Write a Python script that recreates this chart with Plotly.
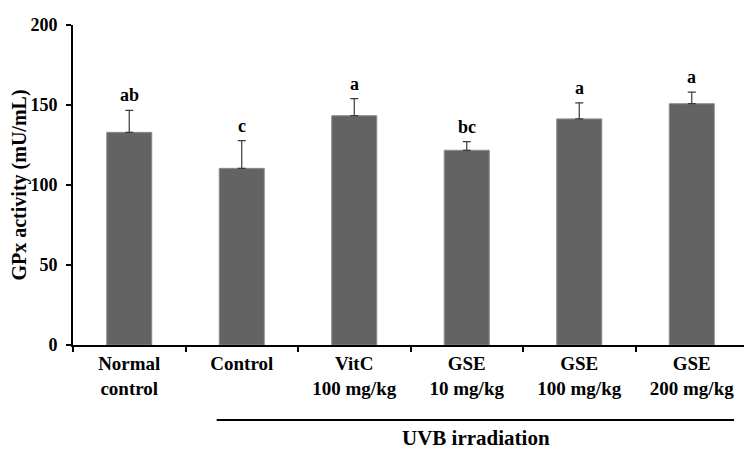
import plotly.graph_objects as go

categories = ["Normal<br>control", "Control", "VitC<br>100 mg/kg", "GSE<br>10 mg/kg",
              "GSE<br>100 mg/kg", "GSE<br>200 mg/kg"]
values = [132.9, 110.4, 143.3, 121.7, 141.3, 150.8]
errors = [13.8, 17.3, 10.7, 5.4, 10.0, 7.3]
letters = ["ab", "c", "a", "bc", "a", "a"]
y_ticks = [0, 50, 100, 150, 200]

FONT = "Times New Roman, Liberation Serif, serif"

fig = go.Figure()
fig.add_trace(go.Bar(
    x=categories, y=values, width=0.4,
    marker=dict(color="#636363", line=dict(color="#8a8a8a", width=1)),
    error_y=dict(type="data", array=errors, arrayminus=[0] * len(errors),
                 symmetric=False, color="#3a3a3a", thickness=1.2, width=4),
    showlegend=False,
))

for c, v, e, t in zip(categories, values, errors, letters):
    fig.add_annotation(x=c, y=v + e, text=t, showarrow=False, yanchor="bottom",
                       yshift=3, font=dict(family=FONT, size=18, color="black", weight="bold"))

fig.add_shape(type="line", xref="x", yref="paper", x0=0.777, x1=5.376, y0=-0.234, y1=-0.234,
              line=dict(color="black", width=2))
fig.add_annotation(xref="x", yref="paper", x=3.08, y=-0.29, yanchor="middle",
                   text="UVB irradiation",
                   showarrow=False, font=dict(family=FONT, size=21, color="black", weight="bold"))

fig.update_layout(
    width=752, height=454,
    margin=dict(l=65, r=12, t=17, b=117),
    paper_bgcolor="white", plot_bgcolor="white",
    font=dict(family=FONT, color="black"),
    bargap=0.6,
)
fig.update_xaxes(
    type="category", range=[-0.5, 5.5], tickson="boundaries", automargin=False,
    showline=True, linecolor="black", linewidth=2,
    ticks="outside", ticklen=5, tickwidth=2, tickcolor="black",
    tickfont=dict(family=FONT, size=19, color="black", weight="bold"),
    showgrid=False, zeroline=False,
)
fig.update_yaxes(
    range=[0, 200], tickvals=y_ticks, automargin=False,
    showline=True, linecolor="black", linewidth=2,
    ticks="outside", ticklen=5, tickwidth=2, tickcolor="black",
    ticklabelstandoff=5,
    tickfont=dict(family=FONT, size=18, color="black", weight="bold"),
    title=dict(text="GPx activity (mU/mL)", font=dict(family=FONT, size=20, color="black", weight="bold"),
               standoff=6),
    showgrid=False, zeroline=False,
)

fig.write_html("out.html")
